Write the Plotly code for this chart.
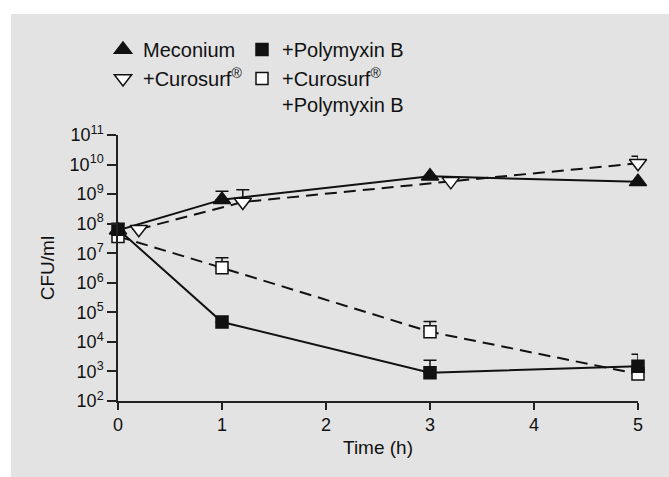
import plotly.graph_objects as go

# ---- data ----
time = [0, 1, 3, 5]
curosurf_time = [0.2, 1.2, 3.2, 5]

meconium = [6e7, 6.5e8, 4.0e9, 2.6e9]
meconium_err = [0, 6.1e8, 0, 0]

curosurf = [6.5e7, 5.4e8, 2.7e9, 1.1e10]
curosurf_err = [0, 8.6e8, 0, 8e9]

polymyxin = [6.5e7, 4.7e4, 9.1e2, 1.5e3]
polymyxin_err = [3.5e7, 0, 1.5e3, 2.3e3]

curo_poly = [3.7e7, 3.2e6, 2.2e4, 8.2e2]
curo_poly_err = [0, 3.8e6, 2.7e4, 0]

y_exponents = [2, 3, 4, 5, 6, 7, 8, 9, 10, 11]
x_ticks = [0, 1, 2, 3, 4, 5]

names = ["Meconium", "+Polymyxin B", "+Curosurf<sup>®</sup>",
         "+Curosurf<sup>®</sup><br>+Polymyxin B"]

# ---- styling ----
BG = "#e3e3e3"
INK = "#111111"
FONT = "Liberation Sans, Arial, sans-serif"
W, H = 669, 477
L, R, T, B = 118, 31, 135, 76
pw, ph = W - L - R, H - T - B

fig = go.Figure()

def add_series(x, y, err, name, symbol, fill, dash, legend, rank):
    fig.add_trace(go.Scatter(
        x=x, y=y, mode="lines", showlegend=False, hoverinfo="skip",
        line=dict(color=INK, width=2, dash=dash), cliponaxis=False))
    return dict(x=x, y=y, err=err, name=name, symbol=symbol, fill=fill,
                legend=legend, rank=rank)

series = [
    add_series(time, meconium, meconium_err, names[0], "triangle-up", INK, "solid", "legend", 1),
    add_series(curosurf_time, curosurf, curosurf_err, names[2], "triangle-down", "white", "12px,7px", "legend", 2),
    add_series(time, curo_poly, curo_poly_err, names[3], "square", "white", "12px,7px", "legend2", 2),
    add_series(time, polymyxin, polymyxin_err, names[1], "square", INK, "solid", "legend2", 1),
]

for s in series:
    size = 15 if s["symbol"].startswith("triangle") else 12
    fig.add_trace(go.Scatter(
        x=s["x"], y=s["y"], mode="markers", name=s["name"],
        legend=s["legend"], legendrank=s["rank"], cliponaxis=False,
        marker=dict(symbol=s["symbol"], size=size, color=s["fill"],
                    line=dict(color=INK, width=1.5)),
        error_y=dict(type="data", array=s["err"], arrayminus=[0] * len(s["err"]),
                     symmetric=False, color=INK, thickness=1.5, width=6.5),
    ))

def px_x(p):
    return (p - L) / pw

def px_y(p):
    return (H - B - p) / ph

shapes = [
    # thin white margins at left and top of the grey panel
    dict(type="rect", xref="paper", yref="paper", layer="below",
         x0=px_x(-2), x1=px_x(11), y0=px_y(H + 2), y1=px_y(-2),
         fillcolor="white", line=dict(width=0)),
    dict(type="rect", xref="paper", yref="paper", layer="below",
         x0=px_x(-2), x1=px_x(W + 2), y0=px_y(14), y1=px_y(-2),
         fillcolor="white", line=dict(width=0)),
]

legend_common = dict(
    orientation="v", yanchor="top", xanchor="left",
    bgcolor="rgba(0,0,0,0)", font=dict(size=20, family=FONT, color=INK),
    valign="top", traceorder="normal", tracegroupgap=0,
)

fig.update_layout(
    width=W, height=H,
    margin=dict(l=L, r=R, t=T, b=B),
    paper_bgcolor=BG, plot_bgcolor=BG,
    font=dict(family=FONT, size=18, color=INK),
    shapes=shapes,
    showlegend=True,
    legend=dict(x=px_x(103), y=px_y(30), **legend_common),
    legend2=dict(x=px_x(242), y=px_y(30), **legend_common),
    xaxis=dict(
        range=[0, 5], tickvals=x_ticks, ticktext=[str(v) for v in x_ticks],
        showline=True, linecolor="#222", linewidth=1.5,
        ticks="outside", ticklen=7, tickwidth=1.5, tickcolor="#222",
        showgrid=False, zeroline=False,
        title=dict(text="Time (h)", font=dict(size=19), standoff=6),
    ),
    yaxis=dict(
        type="log", range=[2, 11],
        tickvals=[10 ** e for e in y_exponents],
        ticktext=[f"10<sup>{e}</sup>" for e in y_exponents],
        showline=True, linecolor="#222", linewidth=1.5,
        ticks="outside", ticklen=9, tickwidth=1.5, tickcolor="#222",
        showgrid=False, zeroline=False,
        title=dict(text="CFU/ml", font=dict(size=19), standoff=10),
    ),
)

# remove the default page margin so the figure fills the window exactly
fig.write_html("out.html", config={"displayModeBar": False},
               post_script="document.body.style.margin='0';")
